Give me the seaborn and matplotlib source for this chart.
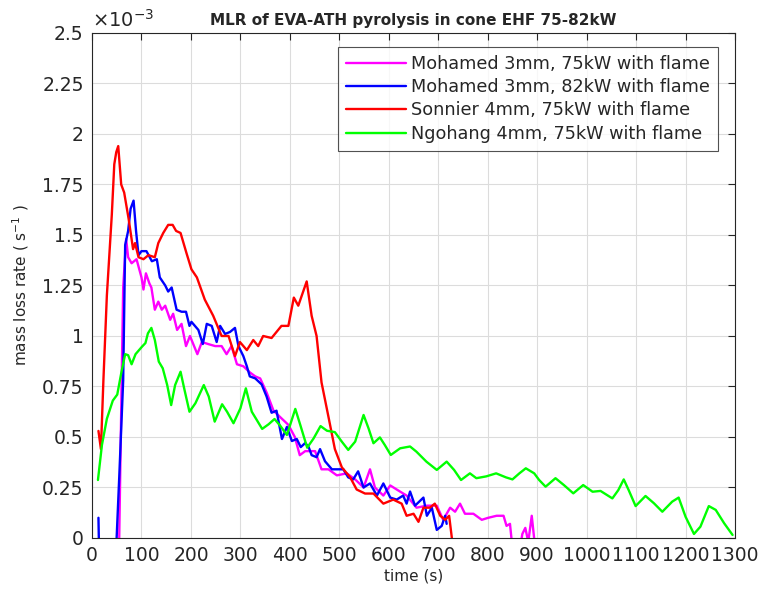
import numpy as np
import pandas as pd
import matplotlib
matplotlib.use('Agg')
import matplotlib.pyplot as plt
from matplotlib.ticker import FuncFormatter
import seaborn as sns

# values, mass loss rate in units of 1e-3 s^-1
labels = ['Mohamed 3mm, 75kW with flame', 'Mohamed 3mm, 82kW with flame',
          'Sonnier 4mm, 75kW with flame', 'Ngohang 4mm, 75kW with flame']

mag_t = [52, 55, 60, 63, 69, 73, 80, 90, 100, 104, 109, 116, 120, 127, 134, 141, 148, 158, 164,
         172, 181, 190, 198, 213, 222, 235, 249, 262, 272, 282, 293, 306, 319, 330, 340, 353,
         367, 384, 397, 410, 420, 431, 451, 464, 478, 495, 515, 532, 549, 562, 572, 589, 603,
         616, 636, 656, 677, 697, 710, 724, 734, 744, 754, 771, 788, 801, 818, 832, 838, 845,
         850, 862, 870, 876, 882, 889, 896]
mag_y = [-0.1, 0.0, 0.79, 1.24, 1.48, 1.39, 1.36, 1.38, 1.29, 1.23, 1.31, 1.26, 1.24, 1.13, 1.17,
         1.13, 1.15, 1.08, 1.11, 1.03, 1.06, 0.95, 1.00, 0.91, 0.97, 0.96, 0.95, 0.95, 0.91, 0.95,
         0.86, 0.85, 0.82, 0.80, 0.79, 0.72, 0.63, 0.59, 0.56, 0.50, 0.41, 0.43, 0.43, 0.34, 0.34,
         0.31, 0.32, 0.29, 0.25, 0.34, 0.25, 0.21, 0.26, 0.24, 0.21, 0.15, 0.16, 0.16, 0.09, 0.15,
         0.13, 0.17, 0.12, 0.12, 0.09, 0.10, 0.11, 0.11, 0.06, 0.07, -0.05, -0.1, 0.02, 0.05,
         -0.02, 0.11, -0.05]

blu_t = [13, 16, 30, 48, 55, 63, 67, 73, 78, 84, 89, 94, 100, 110, 121, 131, 137, 148, 154, 161,
         171, 181, 190, 197, 201, 208, 215, 224, 232, 242, 252, 259, 269, 279, 289, 296, 306,
         313, 319, 330, 343, 353, 363, 373, 384, 394, 404, 414, 422, 431, 438, 444, 454, 461,
         471, 485, 495, 508, 518, 528, 538, 549, 562, 576, 589, 603, 616, 629, 636, 643, 653,
         670, 677, 687, 697, 707, 714, 717]
blu_y = [0.10, -0.3, -0.3, -0.1, 0.3, 0.78, 1.45, 1.52, 1.63, 1.67, 1.52, 1.40, 1.42, 1.42, 1.37,
         1.38, 1.29, 1.25, 1.22, 1.24, 1.13, 1.12, 1.12, 1.05, 1.07, 1.05, 1.03, 0.96, 1.06,
         1.05, 0.97, 1.05, 1.01, 1.02, 1.04, 0.95, 0.90, 0.85, 0.80, 0.79, 0.76, 0.70, 0.62,
         0.63, 0.49, 0.55, 0.48, 0.49, 0.45, 0.47, 0.45, 0.41, 0.40, 0.44, 0.38, 0.34, 0.34,
         0.34, 0.30, 0.29, 0.33, 0.25, 0.27, 0.21, 0.27, 0.20, 0.19, 0.21, 0.17, 0.23, 0.16,
         0.20, 0.11, 0.15, 0.04, 0.06, 0.11, 0.07]

red_t = [13, 18, 23, 30, 40, 45, 49, 53, 59, 65, 74, 83, 87, 94, 104, 114, 127, 134, 144, 154,
         163, 170, 179, 191, 201, 212, 228, 245, 262, 276, 289, 299, 313, 326, 336, 346, 363,
         383, 397, 408, 417, 434, 444, 454, 464, 478, 491, 505, 522, 535, 552, 569, 589, 609,
         626, 636, 650, 660, 670, 683, 693, 704, 714, 722, 727, 732]
red_y = [0.53, 0.44, 0.78, 1.20, 1.60, 1.85, 1.91, 1.94, 1.75, 1.71, 1.58, 1.43, 1.46, 1.39,
         1.38, 1.40, 1.39, 1.46, 1.51, 1.55, 1.55, 1.52, 1.51, 1.41, 1.33, 1.29, 1.18, 1.10,
         1.00, 1.00, 0.90, 0.97, 0.93, 0.98, 0.95, 1.00, 0.99, 1.05, 1.05, 1.19, 1.15, 1.27,
         1.10, 1.00, 0.77, 0.60, 0.44, 0.35, 0.30, 0.24, 0.22, 0.22, 0.17, 0.19, 0.17, 0.11,
         0.12, 0.08, 0.15, 0.15, 0.17, 0.11, 0.09, 0.11, 0.01, -0.1]

grn_t = [12, 20, 30, 42, 51, 59, 67, 73, 80, 88, 101, 108, 113, 120, 127, 135, 143, 152, 160,
         168, 179, 187, 197, 209, 226, 236, 248, 263, 273, 286, 300, 311, 323, 344, 357, 369,
         381, 394, 411, 421, 435, 448, 462, 475, 491, 505, 518, 532, 549, 559, 569, 582, 592,
         604, 623, 643, 656, 676, 697, 717, 732, 746, 764, 777, 797, 817, 837, 850, 864, 877,
         894, 904, 917, 937, 954, 973, 993, 1012, 1028, 1052, 1064, 1075, 1085, 1099, 1119,
         1136, 1153, 1173, 1186, 1200, 1217, 1230, 1247, 1261, 1278, 1295]
grn_y = [0.287, 0.46, 0.59, 0.68, 0.71, 0.815, 0.91, 0.905, 0.86, 0.91, 0.947, 0.965, 1.013,
         1.04, 0.98, 0.873, 0.84, 0.757, 0.658, 0.757, 0.823, 0.733, 0.625, 0.667, 0.757, 0.70,
         0.576, 0.662, 0.625, 0.568, 0.642, 0.741, 0.625, 0.54, 0.563, 0.589, 0.554, 0.51,
         0.639, 0.56, 0.447, 0.493, 0.554, 0.531, 0.524, 0.477, 0.436, 0.477, 0.609, 0.543,
         0.469, 0.498, 0.46, 0.411, 0.444, 0.453, 0.427, 0.378, 0.337, 0.378, 0.337, 0.287,
         0.32, 0.296, 0.305, 0.32, 0.30, 0.29, 0.32, 0.345, 0.32, 0.287, 0.254, 0.296, 0.262,
         0.221, 0.262, 0.229, 0.233, 0.196, 0.237, 0.29, 0.237, 0.158, 0.208, 0.172, 0.13,
         0.18, 0.20, 0.105, 0.02, 0.056, 0.158, 0.139, 0.073, 0.015]

colors = ['#ff00ff', '#0000ff', '#ff0000', '#00ff00']

frames = []
for lab, t, y in zip(labels, [mag_t, blu_t, red_t, grn_t], [mag_y, blu_y, red_y, grn_y]):
    frames.append(pd.DataFrame({'time': t, 'mlr': y, 'series': lab}))
df = pd.concat(frames, ignore_index=True)

sns.set_style('white')
plt.rcParams['font.family'] = ['DejaVu Sans']

fig = plt.figure(figsize=(7.58, 5.91), dpi=100)
ax = fig.add_axes([0.1214, 0.0897, 0.8483, 0.8545])

sns.lineplot(data=df, x='time', y='mlr', hue='series', hue_order=labels,
             palette=dict(zip(labels, colors)), estimator=None, sort=False,
             linewidth=1.7, ax=ax)

ax.set_xlim(0, 1300)
ax.set_ylim(0, 2.5)
ax.set_xticks(np.arange(0, 1301, 100))
ax.set_yticks(np.arange(0, 2.51, 0.25))
ax.yaxis.set_major_formatter(FuncFormatter(lambda v, p: f'{v:g}'))
ax.tick_params(direction='in', top=True, right=True, length=5, width=0.8,
               labelsize=13.5, colors='#262626', pad=6)
ax.grid(True, color='#dcdcdc', linewidth=0.8)
for s in ax.spines.values():
    s.set_color('#262626')
    s.set_linewidth(0.8)

ax.text(0.0, 1.005, r'$\times10^{-3}$', transform=ax.transAxes, fontsize=14,
        color='#262626', ha='left', va='bottom')
ax.set_title('MLR of EVA-ATH pyrolysis in cone EHF 75-82kW', fontsize=11,
             fontweight='bold', pad=6)
ax.set_xlabel('time (s)', fontsize=11, labelpad=2)
ax.set_ylabel(r'mass loss rate ( s$^{-1}$ )', fontsize=11, labelpad=8)

leg = ax.legend(loc='upper right', bbox_to_anchor=(0.9736, 0.9723), borderaxespad=0,
                fontsize=12.7, frameon=True, fancybox=False, edgecolor='#262626',
                handlelength=3.4, handletextpad=0.3, borderpad=0.45, labelspacing=0.3)
leg.get_frame().set_linewidth(0.8)

fig.savefig('out.png', dpi=100)
